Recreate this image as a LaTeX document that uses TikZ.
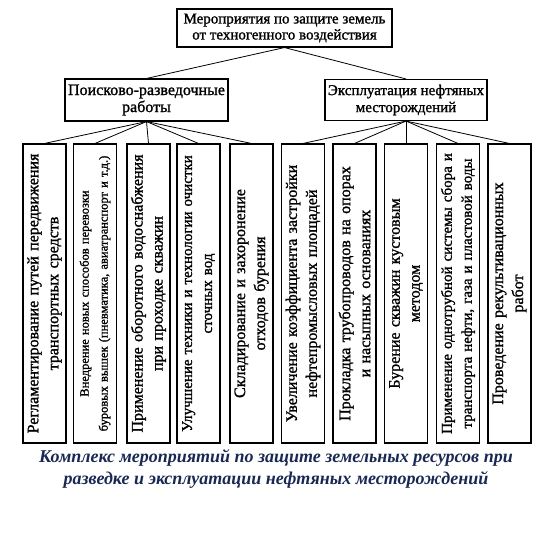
\documentclass[tikz,border=0pt]{standalone}
\usepackage{fontspec}
\setmainfont{Liberation Serif}
\newfontfamily\boxfont{Liberation Serif}[FakeBold=1.3]
\definecolor{capblue}{RGB}{24,40,82}
\begin{document}
\begin{tikzpicture}[x=1pt,y=-1pt,
  box/.style={draw,line width=1.1pt,align=center,inner sep=1pt},
  leaf/.style={box,rotate=90,minimum width=299pt,minimum height=43pt,text width=294pt,font=\boxfont\fontsize{16}{20}\selectfont},
  link/.style={line width=0.8pt}]
\useasboundingbox (0,0) rectangle (556,541);
\node[box,minimum width=215pt,minimum height=38pt,font=\boxfont\fontsize{15}{16}\selectfont] (top) at (284.5,28) {Мероприятия по защите земель\\от техногенного воздействия};
\node[box,minimum width=163pt,minimum height=42pt,font=\boxfont\fontsize{16}{17}\selectfont] (pr) at (146.5,100) {Поисково-разведочные\\работы};
\node[box,minimum width=162pt,minimum height=41pt,font=\boxfont\fontsize{15}{17}\selectfont] (ex) at (406,100) {Эксплуатация нефтяных\\месторождений};
% листья
\node[leaf] (b1) at (44.5,293.5) {Регламентирование путей передвижения\\транспортных средств};
\node[leaf,font=\boxfont\fontsize{12.5}{19}\selectfont] (b2) at (95,293.5) {Внедрение новых способов перевозки\\буровых вышек (пневматика, авиатранспорт и т.д.)};
\node[leaf] (b3) at (148.5,293.5) {Применение оборотного водоснабжения\\при проходке скважин};
\node[leaf,font=\boxfont\fontsize{15}{20}\selectfont] (b4) at (198.5,293.5) {Улучшение техники и технологии очистки\\сточных вод};
\node[leaf] (b5) at (251.5,293.5) {Складирование и захоронение\\отходов бурения};
\node[leaf] (b6) at (303,293.5) {Увеличение коэффициента застройки\\нефтепромысловых площадей};
\node[leaf] (b7) at (354.5,293.5) {Прокладка трубопроводов на опорах\\и насыпных основаниях};
\node[leaf] (b8) at (406,293.5) {Бурение скважин кустовым\\методом};
\node[leaf,font=\boxfont\fontsize{15}{20}\selectfont] (b9) at (458,293.5) {Применение однотрубной системы сбора и\\транспорта нефти, газа и пластовой воды};
\node[leaf] (b10) at (509.5,293.5) {Проведение рекультивационных\\работ};
\draw[link] (top.south) -- (pr.north);
\draw[link] (top.south) -- (ex.north);
\foreach \i in {1,...,5} \draw[link] (pr.south) -- (b\i.east);
\foreach \i in {6,...,10} \draw[link] (ex.south) -- (b\i.east);
\node[align=center,text=capblue,font=\fontsize{18}{22}\selectfont\bfseries\itshape] (cap) at (276,469) {Комплекс мероприятий по защите земельных ресурсов при\\разведке и эксплуатации нефтяных месторождений};
\end{tikzpicture}
\end{document}
